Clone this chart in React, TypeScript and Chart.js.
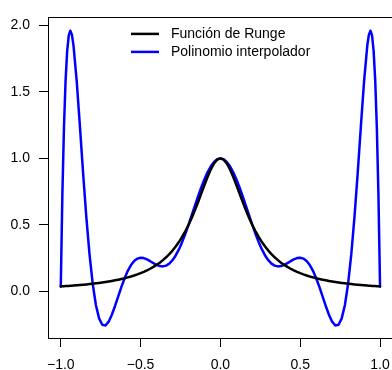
import React, { useEffect, useRef } from "react";
import { Chart, registerables } from "chart.js";

Chart.register(...registerables);

const FONT = "'Liberation Sans', Arial, Helvetica, sans-serif";

const xValues = [
  -1, -0.99, -0.98, -0.97, -0.96, -0.95, -0.94, -0.93, -0.92, -0.9, -0.88, -0.86, -0.84, -0.82, -0.8,
  -0.78, -0.76, -0.74, -0.72, -0.7, -0.68, -0.66, -0.64, -0.62, -0.6, -0.58, -0.56, -0.54, -0.52, -0.5,
  -0.48, -0.46, -0.44, -0.42, -0.4, -0.38, -0.36, -0.34, -0.32, -0.3, -0.28, -0.26, -0.24, -0.22, -0.2,
  -0.18, -0.16, -0.14, -0.12, -0.1, -0.08, -0.06, -0.04, -0.02, 0,
  0.02, 0.04, 0.06, 0.08, 0.1, 0.12, 0.14, 0.16, 0.18, 0.2, 0.22, 0.24, 0.26, 0.28, 0.3,
  0.32, 0.34, 0.36, 0.38, 0.4, 0.42, 0.44, 0.46, 0.48, 0.5, 0.52, 0.54, 0.56, 0.58, 0.6,
  0.62, 0.64, 0.66, 0.68, 0.7, 0.72, 0.74, 0.76, 0.78, 0.8, 0.82, 0.84, 0.86, 0.88, 0.9,
  0.92, 0.93, 0.94, 0.95, 0.96, 0.97, 0.98, 0.99, 1,
];

const rungeValues = [
  0.0385, 0.0392, 0.04, 0.0408, 0.0416, 0.0424, 0.0433, 0.0442, 0.0451, 0.0471, 0.0491, 0.0513, 0.0536, 0.0561, 0.0588,
  0.0617, 0.0648, 0.0681, 0.0716, 0.0755, 0.0796, 0.0841, 0.089, 0.0943, 0.1, 0.1063, 0.1131, 0.1206, 0.1289, 0.1379,
  0.1479, 0.159, 0.1712, 0.1848, 0.2, 0.2169, 0.2358, 0.2571, 0.2809, 0.3077, 0.3378, 0.3717, 0.4098, 0.4525, 0.5,
  0.5525, 0.6098, 0.6711, 0.7353, 0.8, 0.8621, 0.9174, 0.9615, 0.9901, 1.0,
  0.9901, 0.9615, 0.9174, 0.8621, 0.8, 0.7353, 0.6711, 0.6098, 0.5525, 0.5, 0.4525, 0.4098, 0.3717, 0.3378, 0.3077,
  0.2809, 0.2571, 0.2358, 0.2169, 0.2, 0.1848, 0.1712, 0.159, 0.1479, 0.1379, 0.1289, 0.1206, 0.1131, 0.1063, 0.1,
  0.0943, 0.089, 0.0841, 0.0796, 0.0755, 0.0716, 0.0681, 0.0648, 0.0617, 0.0588, 0.0561, 0.0536, 0.0513, 0.0491, 0.0471,
  0.0451, 0.0442, 0.0433, 0.0424, 0.0416, 0.0408, 0.04, 0.0392, 0.0385,
];

const polyValues = [
  0.0385, 0.7261, 1.2303, 1.581, 1.8044, 1.9236, 1.959, 1.9279, 1.8459, 1.5787, 1.2402, 0.8881, 0.5604, 0.2802, 0.0588,
  -0.1007, -0.2013, -0.2496, -0.2546, -0.2262, -0.1743, -0.1083, -0.0363, 0.0349, 0.1, 0.1554, 0.1987, 0.2292, 0.2472, 0.2538,
  0.251, 0.2415, 0.2278, 0.2131, 0.2, 0.1912, 0.1888, 0.1946, 0.2099, 0.2353, 0.271, 0.3165, 0.3708, 0.4326, 0.5,
  0.571, 0.6432, 0.7142, 0.7817, 0.8434, 0.8971, 0.9409, 0.9733, 0.9933, 1.0,
  0.9933, 0.9733, 0.9409, 0.8971, 0.8434, 0.7817, 0.7142, 0.6432, 0.571, 0.5, 0.4326, 0.3708, 0.3165, 0.271, 0.2353,
  0.2099, 0.1946, 0.1888, 0.1912, 0.2, 0.2131, 0.2278, 0.2415, 0.251, 0.2538, 0.2472, 0.2292, 0.1987, 0.1554, 0.1,
  0.0349, -0.0363, -0.1083, -0.1743, -0.2262, -0.2546, -0.2496, -0.2013, -0.1007, 0.0588, 0.2802, 0.5604, 0.8881, 1.2402, 1.5787,
  1.8459, 1.9279, 1.959, 1.9236, 1.8044, 1.581, 1.2303, 0.7261, 0.0385,
];

const xTicks = [-1, -0.5, 0, 0.5, 1];
const yTicks = [0, 0.5, 1, 1.5, 2];
const seriesLabels = ["Función de Runge", "Polinomio interpolador"];
const seriesColors = ["#000000", "#0000ff"];

const fmt = (v: number) => (v < 0 ? "\u2212" : "") + Math.abs(v).toFixed(1);

const framePlugin = {
  id: "frameAndLegend",
  afterDraw(chart: any) {
    const { ctx, chartArea: a } = chart;
    ctx.save();
    ctx.strokeStyle = "#000";
    ctx.lineWidth = 1;
    ctx.strokeRect(
      Math.round(a.left) + 0.5,
      Math.round(a.top) + 0.5,
      Math.round(a.right - a.left),
      Math.round(a.bottom - a.top)
    );
    // legend
    const lx0 = a.left + 83;
    const lx1 = a.left + 111;
    const tx = a.left + 123;
    const rows = [a.top + 16.5, a.top + 34.5];
    ctx.font = `14px ${FONT}`;
    ctx.textBaseline = "middle";
    ctx.textAlign = "left";
    seriesLabels.forEach((label, i) => {
      ctx.strokeStyle = seriesColors[i];
      ctx.lineWidth = 2.5;
      ctx.beginPath();
      ctx.moveTo(lx0, rows[i]);
      ctx.lineTo(lx1, rows[i]);
      ctx.stroke();
      ctx.fillStyle = "#000";
      ctx.fillText(label, tx, rows[i]);
    });
    ctx.restore();
  },
};

export default function App() {
  const ref = useRef<HTMLCanvasElement | null>(null);
  useEffect(() => {
    document.body.style.margin = "0";
    const canvas = ref.current;
    if (!canvas) return;
    const chart = new Chart(canvas, {
      type: "line",
      data: {
        datasets: [
          {
            label: seriesLabels[0],
            data: xValues.map((x, i) => ({ x, y: rungeValues[i] })),
            borderColor: seriesColors[0],
            borderWidth: 2.5,
            borderCapStyle: "round",
            borderJoinStyle: "round",
            pointRadius: 0,
            tension: 0,
            fill: false,
          },
          {
            label: seriesLabels[1],
            data: xValues.map((x, i) => ({ x, y: polyValues[i] })),
            borderColor: seriesColors[1],
            borderWidth: 2.5,
            borderCapStyle: "round",
            borderJoinStyle: "round",
            pointRadius: 0,
            tension: 0,
            fill: false,
          },
        ],
      },
      options: {
        responsive: false,
        animation: false,
        devicePixelRatio: 1,
        layout: { padding: { top: 10, right: 6.4, left: 0, bottom: 0 } },
        plugins: { legend: { display: false }, tooltip: { enabled: false } },
        scales: {
          x: {
            type: "linear",
            min: -1.08,
            max: 1.08,
            afterBuildTicks: (s: any) => {
              s.ticks = xTicks.map((v) => ({ value: v }));
            },
            afterFit: (s: any) => {
              s.height = 32;
            },
            grid: { drawOnChartArea: false, drawTicks: true, tickLength: 9, color: "#000", lineWidth: 1 },
            border: { display: false },
            ticks: {
              autoSkip: false,
              maxRotation: 0,
              padding: 10,
              color: "#000",
              font: { family: FONT, size: 14 },
              callback: (v: any) => fmt(Number(v)),
            },
          },
          y: {
            type: "linear",
            min: -0.349,
            max: 2.059,
            afterBuildTicks: (s: any) => {
              s.ticks = yTicks.map((v) => ({ value: v }));
            },
            afterFit: (s: any) => {
              s.width = 48;
            },
            grid: { drawOnChartArea: false, drawTicks: true, tickLength: 9, color: "#000", lineWidth: 1 },
            border: { display: false },
            ticks: {
              autoSkip: false,
              padding: 9,
              color: "#000",
              font: { family: FONT, size: 14 },
              callback: (v: any) => fmt(Number(v)),
            },
          },
        },
      },
      plugins: [framePlugin],
    } as any);
    return () => chart.destroy();
  }, []);
  return (
    <div style={{ width: 392, height: 370, overflow: "hidden", background: "#fff" }}>
      <canvas ref={ref} width={400} height={370} style={{ display: "block" }} />
    </div>
  );
}
